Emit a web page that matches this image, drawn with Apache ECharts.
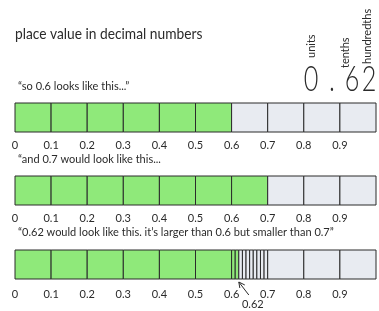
<!DOCTYPE html>
<html>
<head>
<meta charset="utf-8">
<script src="https://cdn.jsdelivr.net/npm/echarts@6/dist/echarts.min.js"></script>
<style>
  html, body { margin: 0; padding: 0; background: #fff; }
  #chart { width: 379px; height: 311px; }
</style>
</head>
<body>
<div id="chart"></div>
<script>
// place value strips: 0.6, 0.7 and 0.62 shaded on a 0..1 strip

const tickLabels = ['0', '0.1', '0.2', '0.3', '0.4', '0.5', '0.6', '0.7', '0.8', '0.9']
const tenthSteps = [0, 0.1, 0.2, 0.3, 0.4, 0.5, 0.6, 0.7, 0.8, 0.9, 1.0]
const hundredthSteps = [0.60, 0.61, 0.62, 0.63, 0.64, 0.65, 0.66, 0.67, 0.68, 0.69, 0.70]
const shownValues = [0.6, 0.7, 0.62]
const captions = [
  '\u201cso 0.6 looks like this...\u201d',
  '\u201cand 0.7 would look like this...',
  '\u201c0.62 would look like this. it\u2019s larger than 0.6 but smaller than 0.7\u201d'
]
const digits = ['0', '.', '6', '2']
const placeNames = ['units', 'tenths', 'hundredths']

const GREEN = '#8fe97a'
const GREY = '#e8ebf1'
const INK = '#2b2b2b'
const FONT = 'Lato'

// split a strip into cells; the tenth that holds the value gets hundredths
function buildCells(v) {
  const cells = []
  for (let k = 0; k < tenthSteps.length - 1; k++) {
    const a = tenthSteps[k]
    const b = tenthSteps[k + 1]
    if (v > a + 1e-9 && v < b - 1e-9) {
      for (let j = 0; j < hundredthSteps.length - 1; j++) {
        const c = hundredthSteps[j]
        const d = hundredthSteps[j + 1]
        cells.push([c, d, d <= v + 1e-9 ? 1 : 0])
      }
    } else {
      cells.push([a, b, b <= v + 1e-9 ? 1 : 0])
    }
  }
  return cells
}

const stripTops = [103, 176, 250]
const stripH = 29

const grids = stripTops.map(t => ({ left: 15, top: t, width: 367, height: stripH }))

const xAxes = stripTops.map((t, i) => ({
  type: 'value',
  gridIndex: i,
  min: 0,
  max: 1,
  interval: 0.1,
  axisLine: { show: false },
  axisTick: { show: false },
  splitLine: { show: false },
  axisLabel: {
    margin: i === 2 ? 10 : 8,
    color: INK,
    fontFamily: FONT,
    fontSize: 11,
    formatter: (val) => {
      const idx = Math.round(val * 10)
      return idx < tickLabels.length ? tickLabels[idx] : ''
    }
  }
}))

const yAxes = stripTops.map((t, i) => ({
  type: 'value',
  gridIndex: i,
  min: 0,
  max: 1,
  show: false
}))

const series = shownValues.map((v, i) => ({
  type: 'custom',
  xAxisIndex: i,
  yAxisIndex: i,
  encode: { x: [0, 1] },
  data: buildCells(v),
  renderItem: (params, api) => {
    const p0 = api.coord([api.value(0), 1])
    const p1 = api.coord([api.value(1), 0])
    return {
      type: 'rect',
      shape: { x: p0[0], y: p0[1], width: p1[0] - p0[0], height: p1[1] - p0[1] },
      style: { fill: api.value(2) ? GREEN : GREY, stroke: INK, lineWidth: 1 }
    }
  },
  silent: true
}))

const graphic = [
  {
    type: 'text', x: 15, y: 26, scaleX: 0.86,
    style: { text: 'place value in decimal numbers', fontFamily: FONT, fontSize: 16, fill: INK }
  },
  { type: 'text', left: 18, top: 81, style: { text: captions[0], fontFamily: FONT, fontSize: 11, fill: INK } },
  { type: 'text', left: 18, top: 154, style: { text: captions[1], fontFamily: FONT, fontSize: 11, fill: INK } },
  { type: 'text', left: 18, top: 227, style: { text: captions[2], fontFamily: FONT, fontSize: 11, fill: INK } }
]

// big "0.62" with place names standing above each digit
const digitX = [311, 332, 352, 369]
digits.forEach((d, i) => {
  graphic.push({
    type: 'text', x: digitX[i], y: 97, scaleX: 0.7,
    style: { text: d, fontFamily: FONT, fontWeight: 300, fontSize: 36, fill: INK, align: 'center', verticalAlign: 'bottom' }
  })
})
const placeX = [311, 345, 367]
const placeY = [58, 68, 64]
placeNames.forEach((n, i) => {
  graphic.push({
    type: 'text', x: placeX[i], y: placeY[i], rotation: Math.PI / 2,
    style: { text: n, fontFamily: FONT, fontSize: 11, fill: INK, align: 'left', verticalAlign: 'middle' }
  })
})

const chart = echarts.init(document.getElementById('chart'), null, { renderer: 'canvas' })
chart.setOption({
  animation: false,
  backgroundColor: '#fff',
  grid: grids,
  xAxis: xAxes,
  yAxis: yAxes,
  series: series,
  graphic: graphic
})

// arrow pointing at 0.62 on the last strip
const tip = chart.convertToPixel({ gridIndex: 2 }, [shownValues[2], 0])
graphic.push({
  type: 'polyline',
  shape: { points: [[tip[0] + 10, tip[1] + 16], [tip[0], tip[1] + 3]] },
  style: { stroke: INK, lineWidth: 1 }
})
graphic.push({
  type: 'polyline',
  shape: { points: [[tip[0] + 1, tip[1] + 9], [tip[0], tip[1] + 3], [tip[0] + 6, tip[1] + 6]] },
  style: { stroke: INK, lineWidth: 1, fill: 'none' }
})
graphic.push({
  type: 'text', x: tip[0] + 14, y: tip[1] + 20,
  style: { text: String(shownValues[2]), fontFamily: FONT, fontSize: 11, fill: INK, align: 'center', verticalAlign: 'top' }
})
chart.setOption({ graphic: graphic })
</script>
</body>
</html>
